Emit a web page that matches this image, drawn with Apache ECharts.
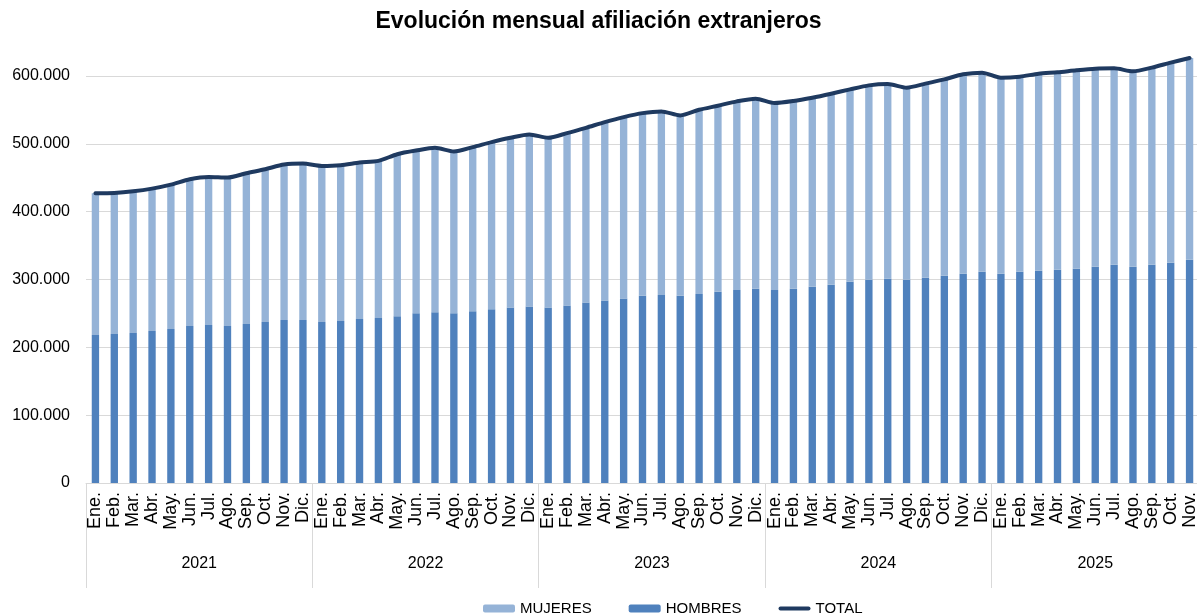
<!DOCTYPE html>
<html>
<head>
<meta charset="utf-8">
<script src="https://cdn.jsdelivr.net/npm/echarts@6/dist/echarts.min.js"></script>
<style>
  html, body { margin: 0; padding: 0; background: #fff; }
  #chart { width: 1197px; height: 615px; }
</style>
</head>
<body>
<div id="chart"></div>
<script>
// month names and the years shown under them
const monthNames = ["Ene.", "Feb.", "Mar.", "Abr.", "May.", "Jun.", "Jul.", "Ago.", "Sep.", "Oct.", "Nov.", "Dic."];
const years = ["2021", "2022", "2023", "2024", "2025"];
const monthsPerYear = [12, 12, 12, 12, 11];

// afiliados extranjeros (personas)
const hombres = [
  218200, 219700, 221000, 224000, 227000, 231500, 233000, 231500, 234500, 237400, 240400, 240400,
  237400, 239000, 241900, 243300, 246000, 250200, 251700, 250200, 253200, 256200, 258600, 260100,
  258600, 261600, 266000, 269000, 271900, 275900, 277300, 275900, 278800, 281800, 284700, 286200,
  284700, 286200, 289200, 292100, 296600, 299500, 301000, 299500, 302500, 305400, 308400, 311300,
  308400, 311300, 312800, 314300, 315800, 318700, 321700, 318700, 321700, 324600, 329100
];
const mujeres = [
  208900, 207900, 209000, 210000, 212900, 216300, 218200, 218700, 222200, 225200, 229100, 230500,
  230100, 229500, 230500, 231600, 238700, 239900, 242400, 238500, 241900, 246300, 250300, 253700,
  250300, 254200, 257600, 263000, 267500, 269400, 270500, 266000, 271400, 274400, 277900, 280300,
  275400, 276900, 278800, 281800, 283700, 286700, 287200, 283300, 286200, 289700, 294100, 293600,
  289100, 287700, 290600, 291100, 292600, 292100, 289600, 288200, 290600, 295100, 297500
];

const yTicks = [0, 100000, 200000, 300000, 400000, 500000, 600000];

// derived
const categories = [];
const yearCenters = {};
let pos = 0;
years.forEach((y, k) => {
  yearCenters[pos + monthsPerYear[k] / 2] = y;
  for (let m = 0; m < monthsPerYear[k]; m++) categories.push(monthNames[m]);
  pos += monthsPerYear[k];
});
const total = hombres.map((h, i) => h + mujeres[i]);

const fmt = (v) => String(v).replace(/\B(?=(\d{3})+(?!\d))/g, ".");
const FONT = "'Liberation Sans', Arial, sans-serif";
const NAVY = "#1f3a60";

const chart = echarts.init(document.getElementById("chart"), null, { renderer: "canvas" });

chart.setOption({
  animation: false,
  title: {
    text: "Evolución mensual afiliación extranjeros",
    left: "center",
    top: 5,
    textStyle: { fontFamily: FONT, fontSize: 23, fontWeight: "bold", color: "#000" }
  },
  legend: {
    data: [
      "MUJERES",
      "HOMBRES",
      // thick line with a 32x8 box so it is not stretched
      { name: "TOTAL", icon: "path://M0,0 M32,8 M2,2 L30,2 A2,2 0 0 1 30,6 L2,6 A2,2 0 0 1 2,2 Z" }
    ],
    left: 478,
    top: 596,
    itemWidth: 32,
    itemHeight: 8,
    itemGap: 37,
    textStyle: { fontFamily: FONT, fontSize: 15, color: "#000" }
  },
  // plot runs a pixel past the right edge, as in the original (no closing separator)
  grid: { left: 86, width: 1113, top: 76, bottom: 132, containLabel: false, outerBoundsMode: "none" },
  xAxis: [
    {
      type: "category",
      data: categories,
      position: "bottom",
      axisLine: { lineStyle: { color: "#d9d9d9", width: 1 } },
      axisTick: {
        show: true,
        length: 105,
        interval: (i) => i % 12 === 0,
        lineStyle: { color: "#d9d9d9", width: 1 }
      },
      axisLabel: {
        rotate: 90,
        interval: 0,
        margin: 9,
        fontFamily: FONT,
        fontSize: 18,
        color: "#000"
      }
    },
    {
      type: "value",
      min: 0,
      max: categories.length,
      interval: 0.5,
      position: "bottom",
      axisLine: { show: false },
      axisTick: { show: false },
      splitLine: { show: false },
      axisLabel: {
        margin: 73,
        fontFamily: FONT,
        fontSize: 16,
        color: "#000",
        formatter: (v) => yearCenters[v] || ""
      }
    }
  ],
  yAxis: {
    type: "value",
    min: 0,
    max: yTicks[yTicks.length - 1],
    interval: yTicks[1] - yTicks[0],
    axisLine: { show: false },
    axisTick: { show: false },
    splitLine: { lineStyle: { color: "#d9d9d9", width: 1 } },
    axisLabel: {
      margin: 16,
      fontFamily: FONT,
      fontSize: 16,
      color: "#000",
      formatter: (v) => fmt(v)
    }
  },
  series: [
    {
      name: "HOMBRES",
      type: "bar",
      stack: "a",
      data: hombres,
      barWidth: "39%",
      clip: false,
      itemStyle: { color: "#4f81bd" }
    },
    {
      name: "MUJERES",
      type: "bar",
      stack: "a",
      data: mujeres,
      barWidth: "39%",
      clip: false,
      itemStyle: { color: "#95b3d7" }
    },
    {
      name: "TOTAL",
      type: "line",
      data: total,
      clip: false,
      smooth: 0.25,
      symbol: "none",
      z: 5,
      lineStyle: { color: NAVY, width: 4, cap: "round", join: "round" },
      itemStyle: { color: NAVY }
    }
  ]
});
</script>
</body>
</html>
